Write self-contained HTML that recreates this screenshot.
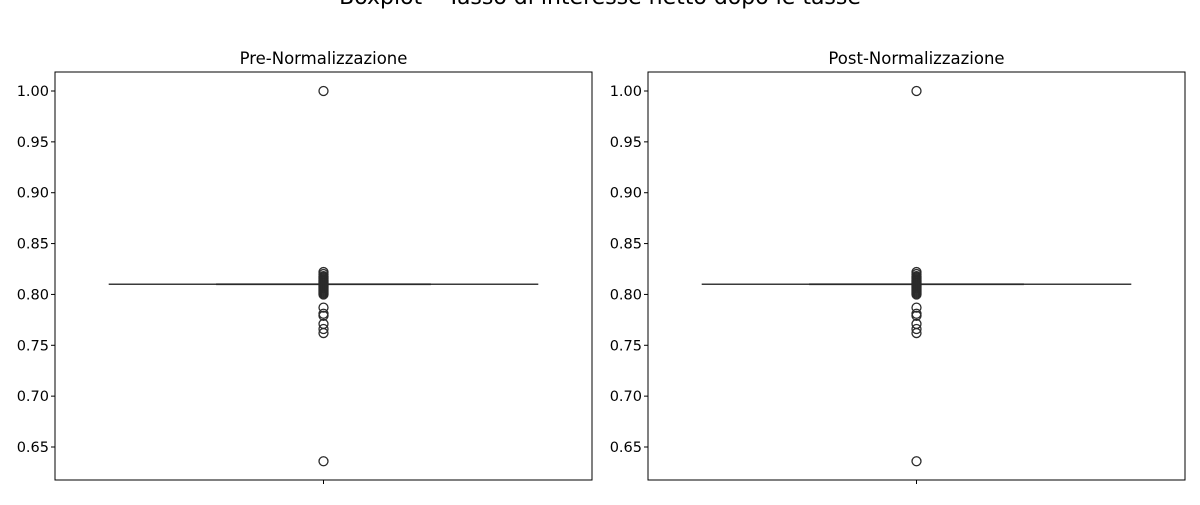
<!DOCTYPE html>
<html><head><meta charset="utf-8"><style>
body{margin:0;background:#fff}
svg{font-family:"DejaVu Sans","Liberation Sans",sans-serif}
</style></head><body>
<svg id="c" width="1200" height="500" xmlns="http://www.w3.org/2000/svg">
<text x="600" y="4" text-anchor="middle" font-size="22" fill="#000">Boxplot – Tasso di interesse netto dopo le tasse</text>
</svg>
<script>
const panelTitles = ["Pre-Normalizzazione", "Post-Normalizzazione"];
const median = 0.81;
const outliers = [1.0, 0.822, 0.820, 0.818, 0.817, 0.816, 0.815, 0.814, 0.813, 0.812, 0.811, 0.810, 0.809, 0.808, 0.807, 0.806, 0.805, 0.804, 0.803, 0.802, 0.801, 0.800, 0.787, 0.781, 0.779, 0.771, 0.766, 0.762, 0.636];
const yTicks = [0.65, 0.70, 0.75, 0.80, 0.85, 0.90, 0.95, 1.00];
const NS = "http://www.w3.org/2000/svg";
const svg = document.getElementById('c');
function mk(tag, attrs, parent) {
  const e = document.createElementNS(NS, tag);
  for (const k in attrs) e.setAttribute(k, attrs[k]);
  (parent || svg).appendChild(e);
  return e;
}
const axTop = 72, axBot = 480;
function yScale(v) { return 91 + (1 - v) * (447 - 91) / 0.35; }
const lefts = [55, 648], W = 537;
panelTitles.forEach((t, i) => {
  const L = lefts[i], cx = L + W / 2;
  const g = mk('g', {});
  
  
  const tt = mk('text', {x: cx, y: 64, 'text-anchor': 'middle', 'font-size': 16.5}, g);
  tt.textContent = t;
  
  
  yTicks.forEach(v => {
    const y = yScale(v);
    const tk = mk('line', {x1: L - 4, x2: L, y1: y, y2: y, stroke: '#000', 'stroke-width': 1}, g);
    
    
    const lb = mk('text', {x: L - 6, y: y + 5, 'text-anchor': 'end', 'font-size': 14.5}, g);
    lb.textContent = v.toFixed(2);
    
    
  });
  const xt = mk('line', {x1: cx, x2: cx, y1: axBot, y2: axBot + 4, stroke: '#000'}, g);
  
  
  const ym = yScale(median);
  const box = mk('line', {x1: L + W * 0.1, x2: L + W * 0.9, y1: ym, y2: ym, stroke: '#3a3a3a', 'stroke-width': 1.5}, g);
  
  
  const cap = mk('line', {x1: L + W * 0.3, x2: L + W * 0.7, y1: ym, y2: ym, stroke: '#2a2a2a', 'stroke-width': 1.8}, g);
  
  
  outliers.forEach(v => {
    const c = mk('circle', {cx: cx, cy: yScale(v), r: 4.5, fill: 'none', stroke: '#2a2a2a', 'stroke-width': 1.3}, g);
    
    
  });
  const fr = mk('rect', {x: L, y: axTop, width: W, height: axBot - axTop, fill: 'none', stroke: '#000', 'stroke-width': 1}, g);
  
  
});
</script>
</body></html>
